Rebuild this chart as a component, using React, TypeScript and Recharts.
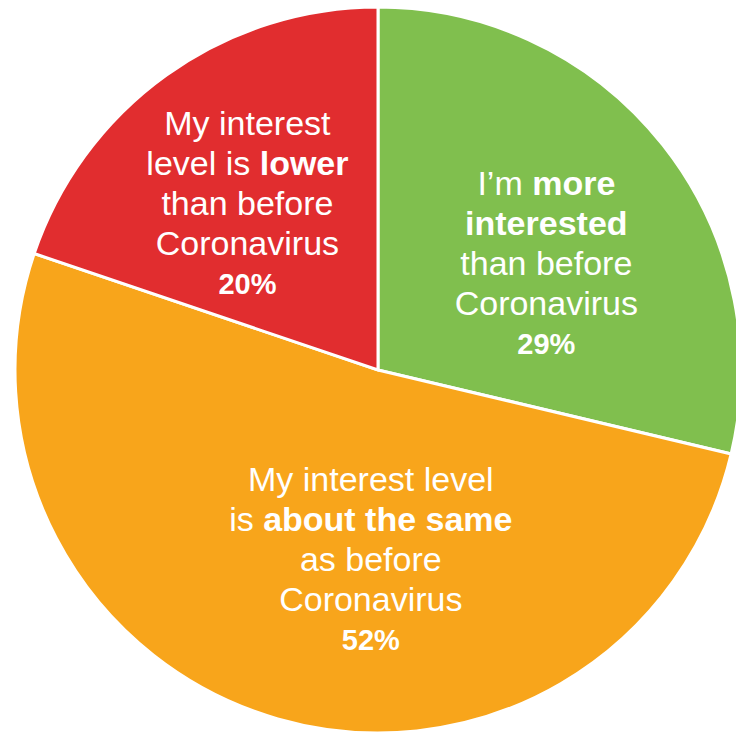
import React from 'react';
import { PieChart, Pie, Cell } from 'recharts';

// slice order runs clockwise from 12 o'clock
const categories = ['More interested', 'About the same', 'Lower'];
const shares = [29, 52, 20];
const colors = ['#80bf4e', '#f8a51b', '#e12d2f'];

// label text per slice: lines of [text, bold] segments
const labelLines: [string, boolean][][][] = [
  [
    [['I\u2019m ', false], ['more', true]],
    [['interested', true]],
    [['than before', false]],
    [['Coronavirus', false]],
  ],
  [
    [['My interest level', false]],
    [['is ', false], ['about the same', true]],
    [['as before', false]],
    [['Coronavirus', false]],
  ],
  [
    [['My interest', false]],
    [['level is ', false], ['lower', true]],
    [['than before', false]],
    [['Coronavirus', false]],
  ],
];

const data = categories.map((name, i) => ({ name, value: shares[i] }));

// small nudges of each label block away from the plain mid-angle spot
const labelNudge = [
  [6, 20],
  [50, -11],
  [-10, 0],
];

const RADIAN = Math.PI / 180;

const renderLabel = (props: any) => {
  const { cx, cy, midAngle, outerRadius, index } = props;
  const r = outerRadius * 0.57;
  const x = cx + r * Math.cos(-midAngle * RADIAN) + labelNudge[index][0];
  const y = cy + r * Math.sin(-midAngle * RADIAN) + labelNudge[index][1];
  const lines = labelLines[index];
  return (
    <g>
      <text
        x={x}
        y={y}
        textAnchor="middle"
        fill="#ffffff"
        fontFamily="'Liberation Sans', Arial, sans-serif"
        fontSize={34}
      >
        {lines.map((segs, li) => (
          <tspan key={li} x={x} y={y - 67 + li * 40}>
            {segs.map(([t, b], si) => (
              <tspan key={si} fontWeight={b ? 700 : 400}>
                {t}
              </tspan>
            ))}
          </tspan>
        ))}
      </text>
      <text
        x={x}
        y={y + 92}
        textAnchor="middle"
        fill="#ffffff"
        fontFamily="'Liberation Sans', Arial, sans-serif"
        fontSize={29}
        fontWeight={700}
      >
        {shares[index]}%
      </text>
    </g>
  );
};

const App: React.FC = () => {
  return (
    <div style={{ position: 'absolute', top: 0, left: 0, width: 736, height: 734, background: '#ffffff', overflow: 'hidden' }}>
      <PieChart width={736} height={734} margin={{ top: 0, right: 0, bottom: 0, left: 0 }}>
        <Pie
          data={data}
          dataKey="value"
          nameKey="name"
          cx={378}
          cy={370}
          innerRadius={0}
          outerRadius={363}
          startAngle={90}
          endAngle={-270}
          stroke="#ffffff"
          strokeWidth={3}
          label={renderLabel}
          labelLine={false}
          isAnimationActive={false}
        >
          {data.map((d, i) => (
            <Cell key={d.name} fill={colors[i]} />
          ))}
        </Pie>
      </PieChart>
    </div>
  );
};

export default App;
